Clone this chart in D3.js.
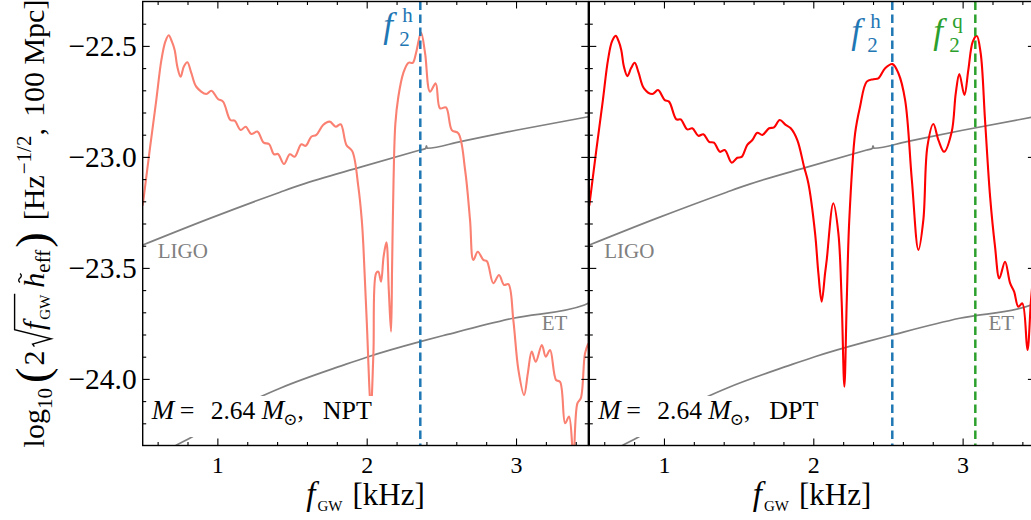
<!DOCTYPE html>
<html>
<head>
<meta charset="utf-8">
<script src="https://cdn.jsdelivr.net/npm/d3@7"></script>
<style>
  body { margin: 0; background: #fff; }
  svg { display: block; font-family: "Liberation Serif", "DejaVu Serif", serif; }
</style>
</head>
<body>
<svg id="chart" width="1031" height="520"></svg>
<script>
// Effective strain spectra, NPT and DPT models (kHz, log10 units)
const freqNPT = [0.500, 0.547, 0.591, 0.625, 0.652, 0.674, 0.695, 0.714, 0.732, 0.754, 0.775, 0.799, 0.826, 0.859,
  0.926, 0.960, 1.004, 1.038, 1.087, 1.116, 1.156, 1.190, 1.227, 1.268, 1.310, 1.346, 1.379, 1.406, 1.446,
  1.485, 1.518, 1.562, 1.592, 1.629, 1.663, 1.708, 1.752, 1.793, 1.826, 1.864, 1.904, 1.944, 1.967, 1.978,
  2.000, 2.028, 2.045, 2.063, 2.078, 2.096, 2.113, 2.132, 2.148, 2.163, 2.170, 2.180, 2.192, 2.212, 2.245,
  2.279, 2.308, 2.330, 2.364, 2.391, 2.424, 2.462, 2.491, 2.531, 2.570, 2.614, 2.659, 2.692, 2.714, 2.744,
  2.781, 2.805, 2.848, 2.886, 2.920, 2.949, 2.982, 3.016, 3.054, 3.079, 3.105, 3.132, 3.173, 3.199, 3.228,
  3.268, 3.295, 3.329, 3.355, 3.384, 3.411, 3.434, 3.462, 3.484];
const hNPT = [-23.22, -22.969, -22.744, -22.564, -22.48, -22.452, -22.48, -22.518, -22.594, -22.639, -22.594, -22.574, -22.623, -22.684,
  -22.717, -22.702, -22.739, -22.751, -22.834, -22.837, -22.879, -22.864, -22.897, -22.886, -22.936, -22.942, -22.988, -22.987, -23.032,
  -22.988, -22.999, -22.943, -22.950, -22.909, -22.901, -22.856, -22.841, -22.864, -22.853, -22.946, -22.975, -23.134, -23.284, -23.404,
  -23.735, -24.13, -23.885, -23.524, -23.517, -23.562, -23.45, -23.385, -23.6, -23.787, -23.5, -23.1, -22.85, -22.729, -22.623,
  -22.576, -22.576, -22.533, -22.44, -22.533, -22.706, -22.669, -22.781, -22.777, -22.879, -22.894, -23.059, -23.284, -23.464, -23.427,
  -23.464, -23.47, -23.569, -23.532, -23.577, -23.573, -23.735, -23.96, -24.073, -23.975, -23.877, -23.923, -23.847, -23.90, -23.87,
  -24.005, -24.013, -24.20, -24.17, -24.35, -24.11, -24.087, -23.885, -23.84];

const freqDPT = [0.500, 0.547, 0.591, 0.625, 0.652, 0.677, 0.697, 0.714, 0.732, 0.755, 0.780, 0.804, 0.830, 0.866,
  0.922, 0.960, 1.005, 1.034, 1.083, 1.112, 1.156, 1.190, 1.230, 1.264, 1.302, 1.335, 1.375, 1.407, 1.454,
  1.491, 1.520, 1.558, 1.592, 1.625, 1.659, 1.704, 1.737, 1.775, 1.815, 1.849, 1.893, 1.938, 1.967, 2.012,
  2.034, 2.056, 2.079, 2.09, 2.134, 2.168, 2.19, 2.208, 2.224, 2.241, 2.28, 2.313, 2.358, 2.403, 2.436,
  2.481, 2.53, 2.57, 2.615, 2.66, 2.704, 2.737, 2.764, 2.804, 2.838, 2.876, 2.927, 2.954, 2.978, 3.012,
  3.038, 3.068, 3.095, 3.121, 3.15, 3.184, 3.217, 3.246, 3.284, 3.318, 3.345, 3.373, 3.40, 3.434, 3.458, 3.484];
const hDPT = [-23.22, -22.969, -22.744, -22.564, -22.48, -22.455, -22.48, -22.518, -22.594, -22.636, -22.60, -22.576, -22.62, -22.691,
  -22.717, -22.699, -22.744, -22.751, -22.831, -22.831, -22.876, -22.871, -22.905, -22.898, -22.932, -22.936, -22.977, -22.969, -23.026,
  -23.004, -23.0, -22.946, -22.924, -22.891, -22.901, -22.871, -22.867, -22.834, -22.856, -22.871, -22.924, -23.044, -23.119, -23.344,
  -23.524, -23.652, -23.524, -23.464, -23.209, -23.344, -23.65, -24.035, -23.65, -23.284, -22.894, -22.774, -22.661, -22.65, -22.646,
  -22.601, -22.582, -22.623, -22.744, -23.104, -23.419, -23.284, -22.954, -22.852, -22.924, -22.977, -22.887, -22.714, -22.627, -22.721,
  -22.609, -22.481, -22.455, -22.533, -22.834, -23.179, -23.404, -23.547, -23.472, -23.569, -23.607, -23.675, -23.66, -23.87, -23.644, -23.45];

// Detector sensitivity curves
const freqLIGO = [0.50, 0.95, 1.42, 1.554, 1.97, 2.358, 2.395, 2.400, 2.405, 2.627, 3.00, 3.484];
const hLIGO = [-23.397, -23.277, -23.159, -23.127, -23.044, -22.969, -22.962, -22.95, -22.961, -22.931, -22.88, -22.819];
const freqET = [0.60, 0.73, 0.83, 1.05, 1.30, 1.42, 1.844, 2.01, 2.358, 2.529, 2.98, 3.458, 3.484];
const hET = [-24.35, -24.297, -24.262, -24.165, -24.077, -24.042, -23.938, -23.90, -23.832, -23.802, -23.727, -23.667, -23.659];

// Characteristic peak frequencies (kHz)
const f2hNPT = 2.359;
const f2hDPT = 2.529;
const f2qDPT = 3.085;

// Axis ticks
const xTickValues = [1, 2, 3];
const xMinorTicks = [0.6, 0.8, 1.2, 1.4, 1.6, 1.8, 2.2, 2.4, 2.6, 2.8, 3.2, 3.4];
const yTickValues = [-24.0, -23.5, -23.0, -22.5];
const yMinorTicks = [-24.2, -24.1, -23.9, -23.8, -23.7, -23.6, -23.4, -23.3, -23.2, -23.1, -22.9, -22.8, -22.7, -22.6, -22.4];

const svg = d3.select('#chart');
const TOP = 1.5, BOTTOM = 445.5;
const y = d3.scaleLinear().domain([-24.3, -22.3]).range([BOTTOM, TOP]);
const GRAY = '#808080', BLUE = '#1f77b4', GREEN = '#2ca02c';

// Lay out a row of text pieces; each piece either advances or sits at a fixed offset.
function mathRow(parent, items) {
  const g = parent.append('g');
  let x = 0;
  const pos = [];
  items.forEach(it => {
    if (it.at !== undefined) x = it.at;
    x += it.gap || 0;
    if (it.space) { pos.push({ x, w: it.space }); x += it.space; return; }
    const t = g.append('text')
      .attr('x', x).attr('y', it.dy || 0)
      .attr('font-size', it.size)
      .attr('font-style', it.italic ? 'italic' : 'normal')
      .attr('fill', it.fill || '#000')
      .text(it.t);
    const w = t.node().getComputedTextLength();
    pos.push({ x, w });
    x += w;
  });
  return { g, width: x, pos };
}

// f_2^(sup) marker label as a single text element with stacked sub/superscript
function peakLabel(px, base, sup, color) {
  const t = svg.append('text').attr('fill', color);
  t.append('tspan').attr('x', px).attr('y', base).attr('font-size', 35).attr('font-style', 'italic').text('f');
  t.append('tspan').attr('x', px + 16).attr('y', base + 9).attr('font-size', 21).text('2');
  t.append('tspan').attr('x', px + 19).attr('y', base - 15).attr('font-size', 21).text(sup);
}

const panels = [
  { x0: 142.7, x1: 588.3, freq: freqNPT, h: hNPT, color: '#fa8072', model: 'NPT', left: true,
    marks: [{ f: f2hNPT, color: BLUE, sup: 'h', lx: -37, base: 37 }] },
  { x0: 589.3, x1: 1034.9, freq: freqDPT, h: hDPT, color: '#ff0000', model: 'DPT', left: false,
    marks: [{ f: f2hDPT, color: BLUE, sup: 'h', lx: -41, base: 43 },
            { f: f2qDPT, color: GREEN, sup: 'q', lx: -42, base: 43 }] }
];

panels.forEach((p, i) => {
  const x = d3.scaleLinear().domain([0.5, 3.484]).range([p.x0, p.x1]);
  const clipId = 'clip' + i;
  svg.append('clipPath').attr('id', clipId).append('rect')
    .attr('x', p.x0).attr('y', TOP).attr('width', p.x1 - p.x0).attr('height', BOTTOM - TOP);
  const plot = svg.append('g').attr('clip-path', `url(#${clipId})`);

  const curve = d3.line().x(d => x(d[0])).y(d => y(d[1])).curve(d3.curveCatmullRom.alpha(0.5));
  const smooth = d3.line().x(d => x(d[0])).y(d => y(d[1])).curve(d3.curveMonotoneX);

  plot.append('path').attr('d', smooth(d3.zip(freqLIGO, hLIGO)))
    .attr('fill', 'none').attr('stroke', GRAY).attr('stroke-width', 1.7);
  plot.append('path').attr('d', smooth(d3.zip(freqET, hET)))
    .attr('fill', 'none').attr('stroke', GRAY).attr('stroke-width', 1.7);

  plot.append('path').attr('d', curve(d3.zip(p.freq, p.h)))
    .attr('fill', 'none').attr('stroke', p.color).attr('stroke-width', 2.1)
    .attr('stroke-linejoin', 'round');

  p.marks.forEach(m => {
    plot.append('line')
      .attr('x1', x(m.f)).attr('x2', x(m.f)).attr('y1', TOP).attr('y2', BOTTOM)
      .attr('stroke', m.color).attr('stroke-width', 2.5).attr('stroke-dasharray', '8.5,4.5');
    peakLabel(x(m.f) + m.lx, m.base, m.sup, m.color);
  });

  // detector labels
  plot.append('text').attr('x', p.x0 + 15).attr('y', 258).attr('font-size', 21)
    .attr('fill', GRAY).text('LIGO');
  plot.append('text').attr('x', p.x1 - 46.5).attr('y', 330).attr('font-size', 21)
    .attr('fill', GRAY).text('ET');

  // model annotation on a white box
  svg.append('rect').attr('x', p.x0 + 2).attr('y', 396).attr('width', 237).attr('height', 41).attr('fill', '#fff');
  const ann = mathRow(svg, [
    { t: 'M', size: 27, italic: true },
    { t: '=', size: 26, at: 28 },
    { t: '2.64', size: 25.5, at: 59 },
    { t: 'M', size: 27, italic: true, at: 110 },
    { t: '\u2299', size: 17, dy: 6, gap: -1 },
    { t: ',', size: 25 },
    { t: p.model, size: 26, at: 171 }
  ]);
  ann.g.attr('transform', `translate(${p.x0 + 9},419.3)`);

  // axes with inward ticks on all sides
  const ax = (gen, tx, ty) => svg.append('g').attr('transform', `translate(${tx},${ty})`).call(gen);
  const bottom = ax(d3.axisBottom(x).tickValues(xTickValues).tickSize(-7).tickPadding(10).tickFormat(d3.format('d')), 0, BOTTOM);
  bottom.selectAll('text').attr('font-size', 24).attr('font-family', 'Liberation Serif, serif').attr('fill', '#000');
  ax(d3.axisBottom(x).tickValues(xMinorTicks).tickSize(-3.5).tickFormat(''), 0, BOTTOM);
  ax(d3.axisTop(x).tickValues(xTickValues).tickSize(-7).tickFormat(''), 0, TOP);
  ax(d3.axisTop(x).tickValues(xMinorTicks).tickSize(-3.5).tickFormat(''), 0, TOP);
  const leftAx = ax(d3.axisLeft(y).tickValues(yTickValues).tickSize(-7).tickPadding(6)
    .tickFormat(p.left ? d3.format('.1f') : ''), p.x0, 0);
  leftAx.selectAll('text').attr('font-size', 29.5).attr('font-family', 'Liberation Serif, serif').attr('fill', '#000');
  ax(d3.axisLeft(y).tickValues(yMinorTicks).tickSize(-3.5).tickFormat(''), p.x0, 0);
  ax(d3.axisRight(y).tickValues(yTickValues).tickSize(-7).tickFormat(''), p.x1, 0);
  ax(d3.axisRight(y).tickValues(yMinorTicks).tickSize(-3.5).tickFormat(''), p.x1, 0);
  svg.selectAll('.domain').remove();
  svg.selectAll('.tick line').attr('stroke', '#000').attr('stroke-width', 1.1);

  svg.append('rect').attr('x', p.x0).attr('y', TOP).attr('width', p.x1 - p.x0).attr('height', BOTTOM - TOP)
    .attr('fill', 'none').attr('stroke', '#000').attr('stroke-width', 1.4);

  // x-axis title
  const xl = mathRow(svg, [
    { t: 'f', size: 33, italic: true },
    { t: 'GW', size: 15, dy: 6, gap: 2 },
    { t: '[kHz]', size: 31, gap: 10 }
  ]);
  xl.g.attr('transform', `translate(${(p.x0 + p.x1) / 2 - xl.width / 2},505)`);
});

// y-axis title, rotated
(function () {
  const s = 30;
  const holder = svg.append('g');
  const r = mathRow(holder, [
    { t: 'log', size: s },
    { t: '10', size: 0.7 * s, dy: 0.28 * s },
    { t: '(', size: 1.55 * s, dy: 0.12 * s, gap: 5 },
    { t: '2', size: s, gap: 2 },
    { space: 0.62 * s, gap: 2 },
    { t: 'f', size: s, italic: true },
    { t: 'GW', size: 0.5 * s, dy: 0.2 * s, gap: 2 },
    { t: 'h', size: s, italic: true, gap: 7 },
    { t: 'eff', size: 0.7 * s, dy: 0.2 * s },
    { t: ')', size: 1.55 * s, dy: 0.12 * s, gap: 2 },
    { t: '[Hz', size: s, gap: 12 },
    { t: '\u22121/2', size: 0.7 * s, dy: -0.42 * s, gap: 1 },
    { t: ',', size: s },
    { t: '100 Mpc]', size: s, gap: 11 }
  ]);
  const sq = r.pos[4], gw = r.pos[6], hh = r.pos[7];
  const sx = sq.x + 2;
  const topY = -0.98 * s;
  r.g.append('path')
    .attr('d', `M${sx},${-0.32 * s} L${sx + 0.08 * s},${-0.38 * s} L${sx + 0.26 * s},${0.24 * s} L${sx + 0.56 * s},${topY} L${gw.x + gw.w + 1},${topY}`)
    .attr('fill', 'none').attr('stroke', '#000').attr('stroke-width', 1.4).attr('stroke-linejoin', 'miter');
  const tx = hh.x + hh.w * 0.35, tw = 0.3 * s, ty = -0.8 * s;
  r.g.append('path')
    .attr('d', `M${tx},${ty} Q${tx + tw / 4},${ty - 0.09 * s} ${tx + tw / 2},${ty} T${tx + tw},${ty}`)
    .attr('fill', 'none').attr('stroke', '#000').attr('stroke-width', 1.3);
  holder.attr('transform', `translate(44,223.5) rotate(-90) translate(${-r.width / 2},0)`);
})();
</script>
</body>
</html>
